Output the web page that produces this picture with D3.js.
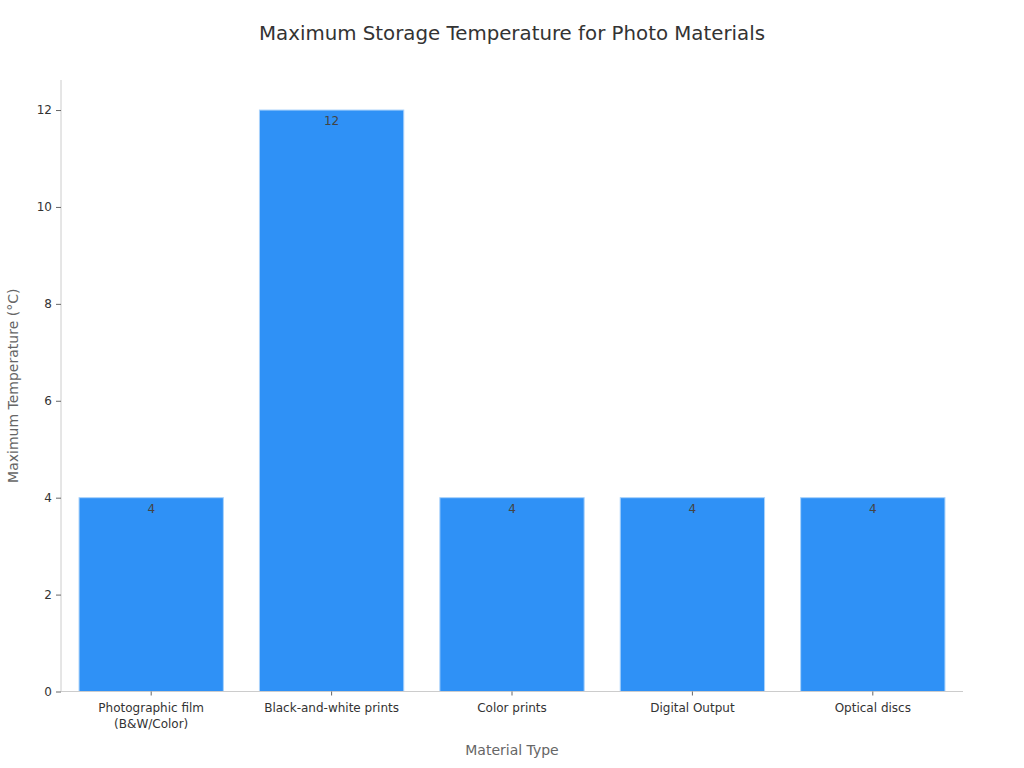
<!DOCTYPE html>
<html><head><meta charset="utf-8">
<script src="https://cdn.jsdelivr.net/npm/d3@7"></script>
<style>body{margin:0;background:#fff;font-family:"DejaVu Sans",sans-serif;}</style>
</head><body>
<svg id="chart" width="1024" height="768"></svg>
<script>
const categories = ["Photographic film\n(B&W/Color)", "Black-and-white prints", "Color prints", "Digital Output", "Optical discs"];
const values = [4, 12, 4, 4, 4];
const yTicks = [0, 2, 4, 6, 8, 10, 12];
const title = "Maximum Storage Temperature for Photo Materials";
const xTitle = "Material Type";
const yTitle = "Maximum Temperature (°C)";

const svg = d3.select("#chart");
const m = {left: 61, right: 61, top: 80, bottom: 76.5};
const W = 1024, H = 768;
const x = d3.scaleBand().domain(categories).range([m.left, W - m.right]).paddingInner(0.2).paddingOuter(0.1);
const y = d3.scaleLinear().domain([0, 12.62]).range([H - m.bottom, m.top]);

svg.append("text").attr("x", 512).attr("y", 40).attr("text-anchor", "middle")
  .attr("font-size", 19.8).attr("fill", "#333").text(title);

svg.selectAll("rect.bar").data(values).enter().append("rect").attr("class", "bar")
  .attr("x", (d, i) => x(categories[i])).attr("width", x.bandwidth())
  .attr("y", d => y(d)).attr("height", d => y(0) - y(d))
  .attr("fill", "#2f91f6").attr("stroke", "#a9d2fb").attr("stroke-width", 1);

svg.selectAll("text.val").data(values).enter().append("text").attr("class", "val")
  .attr("x", (d, i) => x(categories[i]) + x.bandwidth() / 2).attr("y", d => y(d) + 15)
  .attr("text-anchor", "middle").attr("font-size", 12).attr("fill", "#444").text(d => d);

// Y axis
const ya = svg.append("g").attr("transform", `translate(${m.left},0)`)
  .call(d3.axisLeft(y).tickValues(yTicks).tickSize(5).tickPadding(4));
ya.select(".domain").attr("stroke", "#ccc").attr("d", `M0,${m.top}V${y(0)}`);
ya.selectAll(".tick line").attr("stroke", "#666");
ya.selectAll(".tick text").attr("font-size", 12).attr("fill", "#333").attr("font-family", "DejaVu Sans");

// X axis
const xa = svg.append("g").attr("transform", `translate(0,${y(0)})`)
  .call(d3.axisBottom(x).tickSize(4).tickPadding(8));
xa.select(".domain").attr("stroke", "#ccc").attr("d", `M${m.left},0H${W - m.right}`);
xa.selectAll(".tick line").attr("stroke", "#666");
xa.selectAll(".tick text").attr("font-size", 12).attr("fill", "#333").attr("font-family", "DejaVu Sans")
  .each(function(d) {
    const t = d3.select(this); const lines = d.split("\n"); t.text(null);
    lines.forEach((l, i) => t.append("tspan").attr("x", 0).attr("dy", i === 0 ? "0.71em" : "1.35em").text(l));
  });

svg.append("text").attr("x", (m.left + W - m.right) / 2).attr("y", 755).attr("text-anchor", "middle")
  .attr("font-size", 14).attr("fill", "#666").text(xTitle);
svg.append("text").attr("transform", `translate(18,${(m.top + y(0)) / 2}) rotate(-90)`).attr("text-anchor", "middle")
  .attr("font-size", 14).attr("fill", "#666").text(yTitle);
</script>
</body></html>
